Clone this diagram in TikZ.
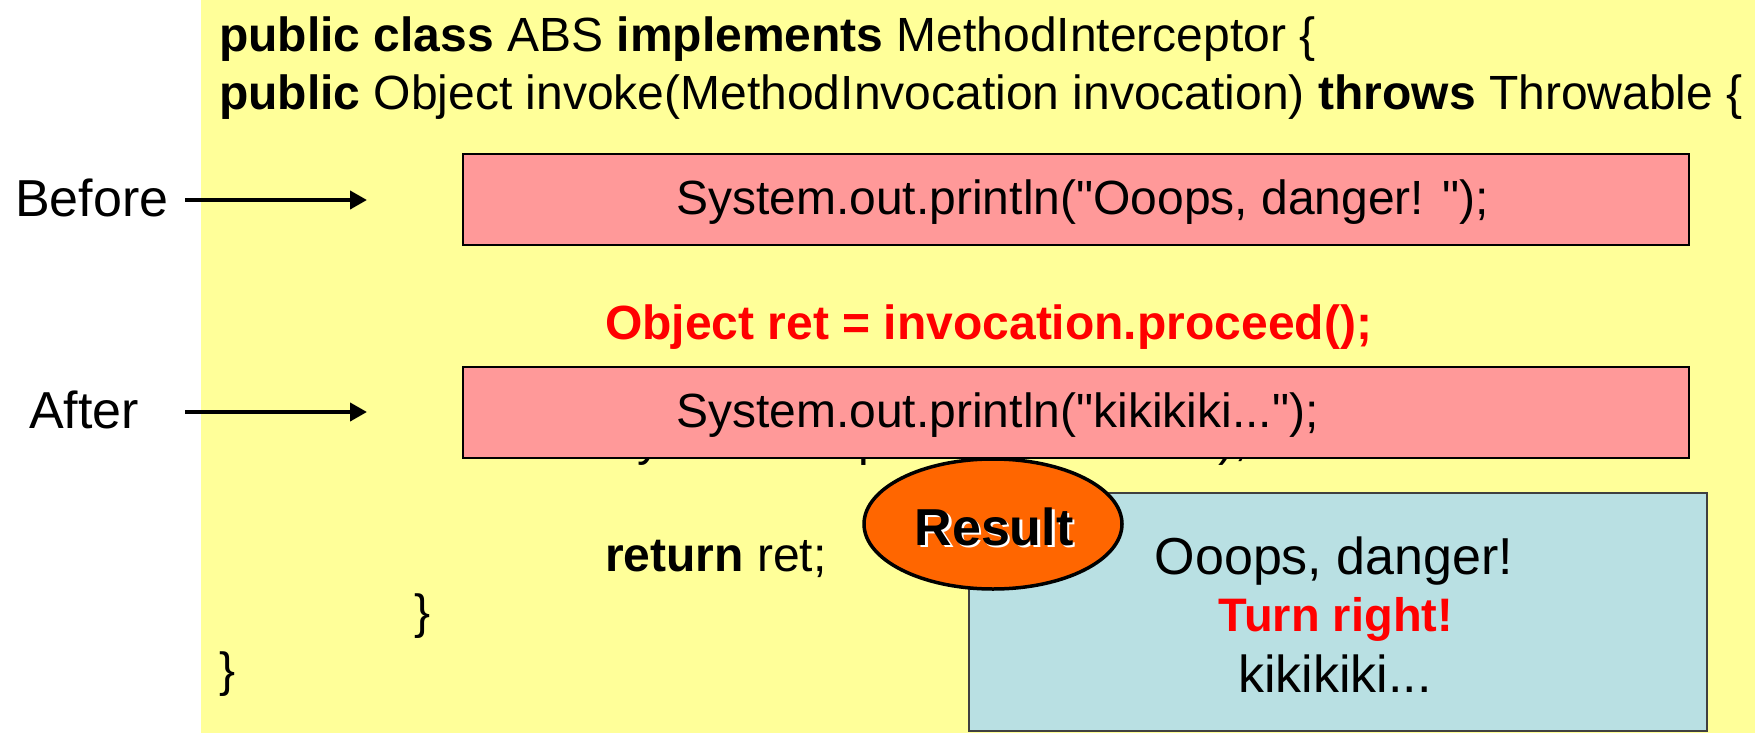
\documentclass[tikz,border=0pt]{standalone}
\usepackage{fontspec}
\setmainfont{Liberation Sans}
\newfontfamily\sansfam{Liberation Sans}
\usetikzlibrary{arrows.meta,shapes.geometric}
\definecolor{slideyellow}{HTML}{FFFF99}
\definecolor{boxpink}{HTML}{FF9999}
\definecolor{boxblue}{HTML}{B9E0E3}
\definecolor{resorange}{HTML}{FF6600}
\definecolor{codered}{HTML}{FF0000}
\newcommand\codesize{\sansfam\fontsize{48}{58}\selectfont}
\newcommand\labelsize{\sansfam\fontsize{52}{60}\selectfont}
\begin{document}
\begin{tikzpicture}[x=1pt,y=-1pt,
  code/.style={anchor=base west, inner sep=0pt, font=\codesize},
  sidelabel/.style={anchor=base west, inner sep=0pt, font=\labelsize},
  outtext/.style={anchor=base, inner sep=0pt, font=\labelsize},
  pinkbox/.style={draw=black, line width=1.8pt, fill=boxpink, inner sep=0pt,
    minimum width=1226pt, minimum height=91pt},
  bluebox/.style={draw=black!75, line width=1.8pt, fill=boxblue, inner sep=0pt,
    minimum width=738pt, minimum height=238pt},
  resultshape/.style={draw=black, line width=3.5pt, fill=resorange, ellipse,
    inner sep=0pt, minimum width=258pt, minimum height=130pt},
  pointer/.style={line width=4pt, -{Triangle[length=17pt,width=18pt]}}
]
\useasboundingbox (0,0) rectangle (1764,733);
\fill[white] (0,0) rectangle (1764,733);
\fill[slideyellow] (201,0) rectangle (1755,733);

% code lines
\node[code] (l1) at (219,52) {\textbf{public class} ABS \textbf{implements} MethodInterceptor \{};
\node[code] (l2) at (219,110) {\textbf{public} Object invoke(MethodInvocation invocation) \textbf{throws} Throwable \{};
\node[code, text=codered, font=\codesize\bfseries] (l5) at (605,339) {Object ret = invocation.proceed();};
\node[code] (l7) at (605,455) {System.out.println("kikikiki...");};
\node[code] (l9) at (605,571) {\textbf{return} ret;};
\node[code] (l10) at (414,628) {\}};
\node[code] (l11) at (219,686) {\}};

% before / after boxes
\node[pinkbox] (beforebox) at (1076,199.5) {};
\node[code] (beforetxt) at (676,214) {System.out.println("Ooops, danger! ");};
\node[pinkbox] (afterbox) at (1076,412.5) {};
\node[code] (aftertxt) at (676,427) {System.out.println("kikikiki...");};

% result box
\node[bluebox] (outbox) at (1338,612) {};
\node[outtext] (o1) at (1334,574) {Ooops, danger!};
\node[outtext, text=codered, font=\sansfam\fontsize{47}{56}\selectfont\bfseries] (o2) at (1336,631) {Turn right!};
\node[outtext] (o3) at (1335,692) {kikikiki...};

% result ellipse
\node[resultshape] (res) at (993,524) {};
\node[anchor=base, inner sep=0pt, font=\labelsize\bfseries, text=white] (resshadow) at (996.5,547.5) {Result};
\node[anchor=base, inner sep=0pt, font=\labelsize\bfseries, text=black] (reslbl) at (994,545) {Result};

% side labels and arrows
\node[sidelabel] (beforelbl) at (15,216) {Before};
\node[sidelabel] (afterlbl) at (29,428) {After};
\coordinate (bS) at (185,200);
\coordinate (bE) at (367,200);
\coordinate (aS) at (185,412);
\coordinate (aE) at (367,412);
\draw[pointer] (bS) -- (bE);
\draw[pointer] (aS) -- (aE);
\end{tikzpicture}
\end{document}
